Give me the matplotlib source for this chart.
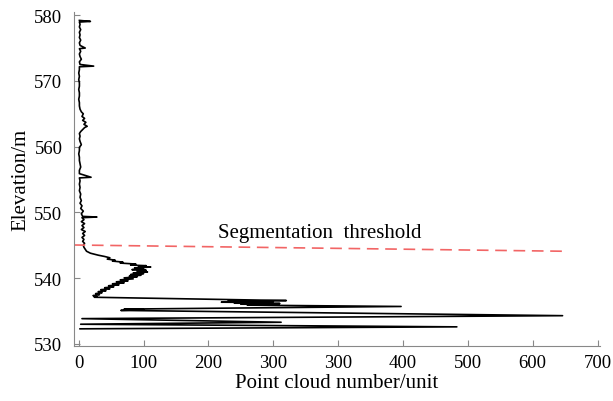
import matplotlib
matplotlib.use("Agg")
import matplotlib.pyplot as plt

# elevation (m) and point count per unit, read top to bottom
elevasi = [579.2, 579.05, 578.95, 578.6, 578.2, 577.8, 577.4, 577.0, 576.6, 576.2,
           575.8, 575.4, 575.0, 574.9, 574.5, 574.1, 573.7, 573.3, 572.9, 572.5,
           572.25, 572.15, 571.7, 571.2, 570.7, 570.2, 569.7, 569.2, 568.7, 568.2,
           567.7, 567.2, 566.7, 566.2, 565.7, 565.3, 565.0, 564.6, 564.3, 564.0,
           563.7, 563.4, 563.1, 562.9, 562.6, 562.3, 562.0, 561.6, 561.2, 560.8,
           560.3, 559.9, 559.4, 558.9, 558.4, 557.9, 557.4, 556.9, 556.4, 555.9,
           555.35, 555.25, 554.8, 554.3, 553.8, 553.3, 552.8, 552.3, 551.8, 551.4,
           551.0, 550.6, 550.2, 549.8, 549.4, 549.3, 549.2, 548.9, 548.6, 548.3,
           548.0, 547.7, 547.4, 547.1, 546.8, 546.5, 546.2, 545.9, 545.6, 545.3,
           545.0, 544.7, 544.4, 544.1, 543.8, 543.5, 543.3, 543.1, 542.9, 542.75,
           542.6, 542.45, 542.3, 542.15, 542.0, 541.9, 541.8, 541.7, 541.55, 541.45,
           541.3, 541.2, 541.05, 540.95, 540.8, 540.7, 540.55, 540.45, 540.3, 540.2,
           540.05, 539.9, 539.75, 539.6, 539.45, 539.3, 539.15, 539.0, 538.85, 538.7,
           538.55, 538.4, 538.25, 538.1, 537.95, 537.8, 537.65, 537.5, 537.35, 537.2,
           537.1, 536.6, 536.5, 536.45, 536.35, 536.3, 536.2, 536.15, 536.05, 536.0,
           535.9, 535.7, 535.3, 535.2, 535.1, 534.3, 533.85, 533.3, 533.0, 532.6,
           532.3]
jumlah = [1, 18, 1, 2, 1, 3, 1, 2, 1, 3,
          1, 2, 10, 1, 3, 1, 2, 4, 1, 2,
          23, 1, 1, 0, 1, 0, 1, 1, 0, 1,
          1, 0, 1, 1, 2, 4, 7, 5, 9, 6,
          11, 8, 13, 9, 6, 3, 1, 2, 1, 2,
          4, 1, 1, 0, 1, 1, 2, 3, 1, 1,
          19, 1, 2, 1, 2, 1, 3, 2, 4, 2,
          5, 3, 7, 4, 6, 28, 5, 8, 4, 9,
          5, 8, 4, 10, 6, 9, 5, 8, 6, 9,
          7, 8, 10, 12, 18, 30, 40, 48, 44, 56,
          52, 68, 64, 88, 80, 104, 92, 111, 86, 100,
          82, 104, 90, 106, 84, 100, 80, 96, 78, 90,
          70, 84, 64, 76, 58, 70, 52, 62, 46, 54,
          40, 48, 34, 42, 30, 36, 26, 32, 22, 28,
          24, 320, 230, 300, 220, 290, 240, 310, 250, 295,
          260, 497, 70, 100, 65, 746, 5, 312, 3, 583,
          2]

# tick labels as printed on the original axis (300 appears twice)
posisi_tick = [0, 100, 200, 300, 400, 500, 600, 700, 800]
label_tick = ["0", "100", "200", "300", "300", "400", "500", "600", "700"]

# threshold line end points
batas_x = [-8, 746]
batas_y = [545.05, 544.1]

plt.rcParams['font.family'] = ['Liberation Serif', 'DejaVu Serif']

fig = plt.figure(figsize=(6.13, 4.02), dpi=100)
ax = fig.add_axes([0.120, 0.137, 0.858, 0.831])

ax.plot(jumlah, elevasi, color='black', linewidth=1.2)
ax.plot(batas_x, batas_y, color='#f26565', linewidth=1.2, linestyle=(0, (7, 4)))
ax.text(372, 547.0, "Segmentation  threshold", fontsize=15, ha='center', va='center')

ax.set_xlim(-8, 803)
ax.set_ylim(529.7, 580.5)
ax.set_xticks(posisi_tick)
ax.set_xticklabels(label_tick)
ax.set_yticks([530, 540, 550, 560, 570, 580])

ax.set_xlabel("Point cloud number/unit", fontsize=15, labelpad=1)
ax.set_ylabel("Elevation/m", fontsize=15, labelpad=3)

for s in ['top', 'right']:
    ax.spines[s].set_visible(False)
for s in ['left', 'bottom']:
    ax.spines[s].set_color('#888888')
ax.tick_params(direction='in', length=4, color='#888888', labelsize=13.5)
ax.tick_params(axis='y', pad=8)
ax.tick_params(axis='x', pad=6)

fig.savefig("out.png", dpi=100)
